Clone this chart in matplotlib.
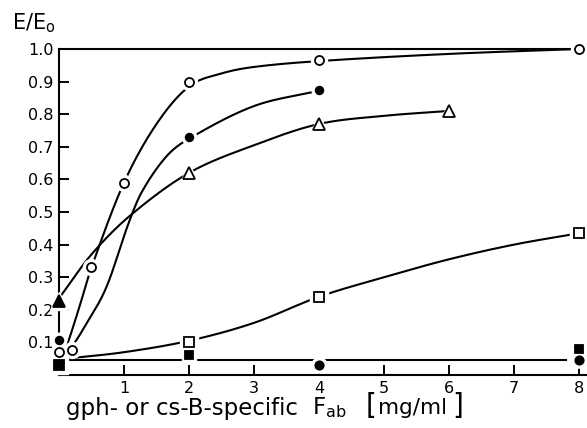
#!/usr/bin/env python3

import numpy as np
import matplotlib.pyplot as plt

# measured points (x in mg/ml, y = E/Eo)
open_circ_x = [0, 0.2, 0.5, 1, 2, 4, 8]
open_circ_y = [0.07, 0.077, 0.33, 0.59, 0.90, 0.965, 1.0]

fill_circ_x = [0, 2, 4]
fill_circ_y = [0.108, 0.73, 0.875]

open_tri_x = [2, 4, 6]
open_tri_y = [0.62, 0.77, 0.81]
fill_tri_x = [0]
fill_tri_y = [0.228]

open_sq_x = [0, 2, 4, 8]
open_sq_y = [0.03, 0.10, 0.24, 0.435]

ctrl_sq_x = [0, 2, 8]
ctrl_sq_y = [0.03, 0.06, 0.08]
ctrl_dot_x = [4, 8]
ctrl_dot_y = [0.031, 0.045]

# hand drawn guide curves
fit_open_x = [0.03, 0.1, 0.3, 0.5, 1, 1.5, 2, 2.5, 3, 4, 6, 8]
fit_open_y = [0.065, 0.08, 0.2, 0.33, 0.59, 0.77, 0.885, 0.925, 0.945, 0.963, 0.985, 1.0]

fit_fill_x = [0.05, 0.17, 0.4, 0.73, 1.06, 1.27, 1.65, 2, 3, 4]
fit_fill_y = [0.065, 0.08, 0.15, 0.27, 0.46, 0.56, 0.67, 0.725, 0.825, 0.872]

fit_tri_x = [0, 0.5, 1.1, 2, 3, 4, 5, 6]
fit_tri_y = [0.235, 0.37, 0.49, 0.62, 0.705, 0.77, 0.795, 0.81]

fit_sq_x = [0.1, 1, 2, 3, 4, 5, 6, 7, 8]
fit_sq_y = [0.05, 0.07, 0.105, 0.16, 0.24, 0.30, 0.355, 0.40, 0.435]

fit_ctrl_x = [0.1, 7.8]
fit_ctrl_y = [0.046, 0.046]

xticks = [1, 2, 3, 4, 5, 6, 7, 8]
yticks = [0.1, 0.2, 0.3, 0.4, 0.5, 0.6, 0.7, 0.8, 0.9, 1.0]


def smooth(xk, yk, n=400):
    # cubic hermite, finite-difference slopes, Fritsch-Carlson limited
    x = np.asarray(xk, float)
    y = np.asarray(yk, float)
    if len(x) < 3:
        return x, y
    h = np.diff(x)
    d = np.diff(y) / h
    m = np.empty_like(x)
    m[0] = d[0]
    m[-1] = d[-1]
    m[1:-1] = (y[2:] - y[:-2]) / (x[2:] - x[:-2])
    for k in range(len(d)):
        if d[k] == 0:
            m[k] = m[k + 1] = 0
            continue
        a = m[k] / d[k]
        b = m[k + 1] / d[k]
        r = a * a + b * b
        if r > 9:
            t = 3 / np.sqrt(r)
            m[k] = t * a * d[k]
            m[k + 1] = t * b * d[k]
    xs = np.linspace(x[0], x[-1], n)
    idx = np.clip(np.searchsorted(x, xs) - 1, 0, len(x) - 2)
    t = (xs - x[idx]) / h[idx]
    h00 = 2 * t**3 - 3 * t**2 + 1
    h10 = t**3 - 2 * t**2 + t
    h01 = -2 * t**3 + 3 * t**2
    h11 = t**3 - t**2
    ys = h00 * y[idx] + h10 * h[idx] * m[idx] + h01 * y[idx + 1] + h11 * h[idx] * m[idx + 1]
    return xs, ys


def marks(ax, x, y, marker, size, filled):
    # white blob first so the line breaks around the symbol
    ax.plot(x, y, ls='none', marker=marker, ms=size + 5, mfc='white', mec='white',
            zorder=4, clip_on=False)
    ax.plot(x, y, ls='none', marker=marker, ms=size, mfc='black' if filled else 'white',
            mec='black', mew=1.3, zorder=5, clip_on=False)


def main():
    plt.rcParams['font.family'] = ['DejaVu Sans']
    fig = plt.figure(figsize=(5.87, 4.28), dpi=100)
    ax = fig.add_axes([0.1005, 0.1238, 0.897, 0.7617])

    for fx, fy in [(fit_open_x, fit_open_y), (fit_fill_x, fit_fill_y),
                   (fit_tri_x, fit_tri_y), (fit_sq_x, fit_sq_y), (fit_ctrl_x, fit_ctrl_y)]:
        xs, ys = smooth(fx, fy)
        ax.plot(xs, ys, color='black', lw=1.5, zorder=3, clip_on=False)

    marks(ax, open_circ_x, open_circ_y, 'o', 6.5, False)
    marks(ax, fill_circ_x, fill_circ_y, 'o', 5.5, True)
    marks(ax, open_tri_x, open_tri_y, '^', 8.5, False)
    marks(ax, fill_tri_x, fill_tri_y, '^', 8.5, True)
    marks(ax, open_sq_x, open_sq_y, 's', 7.5, False)
    marks(ax, ctrl_sq_x, ctrl_sq_y, 's', 5.5, True)
    marks(ax, ctrl_dot_x, ctrl_dot_y, 'o', 6, True)

    ax.set_xlim(0, 8.1)
    ax.set_ylim(0, 1.0)
    ax.set_xticks(xticks)
    ax.set_xticklabels([str(v) for v in xticks])
    ax.set_yticks(yticks)
    ax.set_yticklabels(['%.1f' % v for v in yticks])
    ax.tick_params(direction='in', length=7, width=1.4, labelsize=11.5, pad=4)
    ax.spines['right'].set_visible(False)
    ax.spines['top'].set_bounds(0, 7.9)
    for s in ['left', 'bottom', 'top']:
        ax.spines[s].set_linewidth(1.5)

    fig.text(12 / 587, 1 - 23 / 428, 'E/E$_\\mathregular{o}$', fontsize=15, va='center', ha='left')
    fig.text(66 / 587, 1 - 408 / 428, 'gph- or cs-B-specific', fontsize=16.5,
             va='center', ha='left')
    fig.text(312 / 587, 1 - 408 / 428, 'F$_\\mathregular{ab}$', fontsize=16.5,
             va='center', ha='left')
    fig.text(366 / 587, 1 - 406 / 428, '[', fontsize=20, va='center', ha='left')
    fig.text(378 / 587, 1 - 408 / 428, 'mg/ml', fontsize=15.5, va='center', ha='left')
    fig.text(452 / 587, 1 - 406 / 428, ']', fontsize=20, va='center', ha='left')

    fig.savefig('out.png', dpi=100)


if __name__ == "__main__":
    main()
